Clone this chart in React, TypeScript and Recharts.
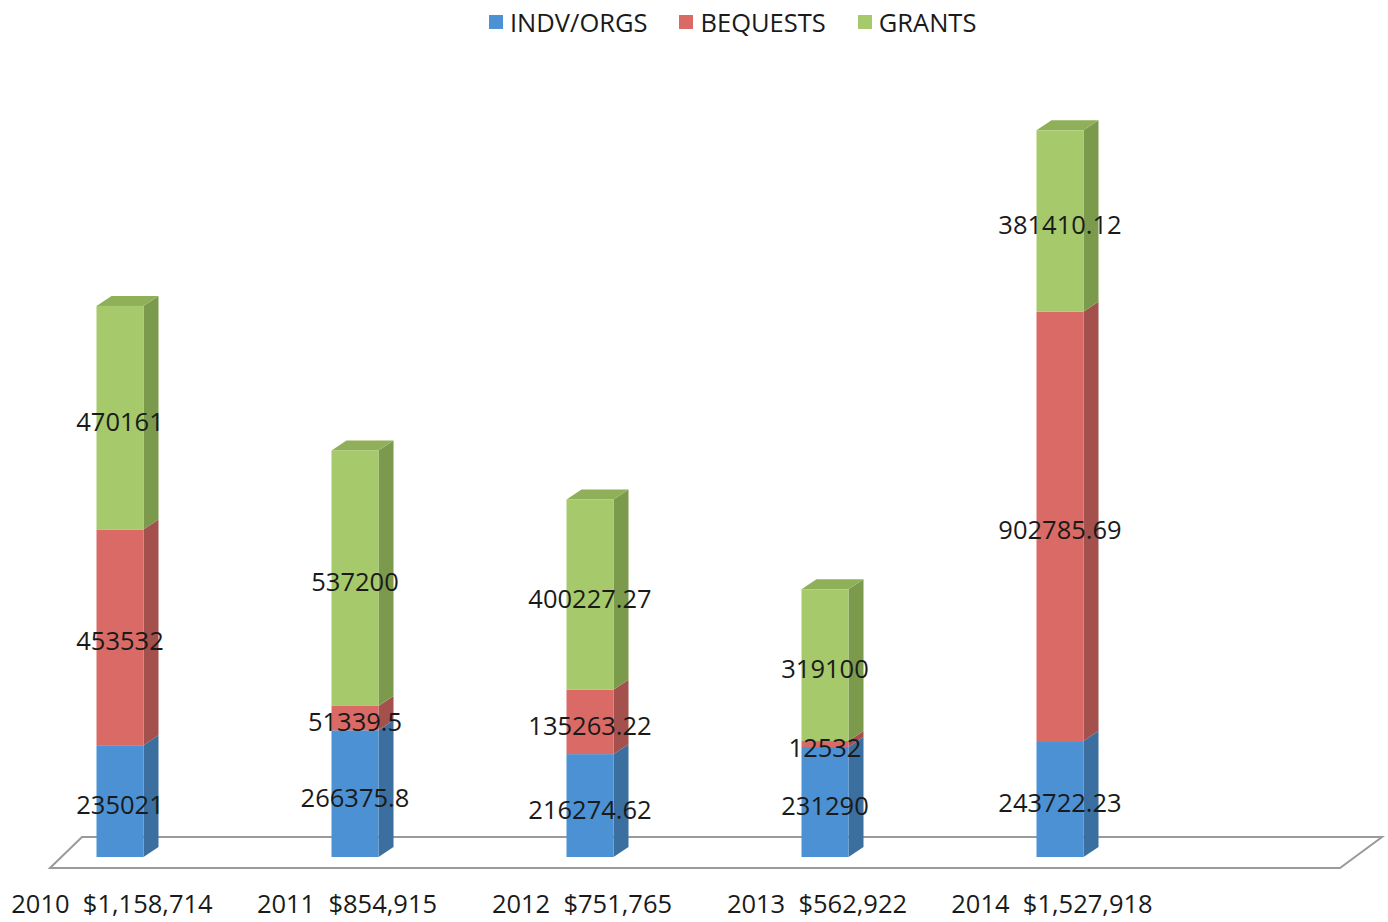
import { BarChart, Bar, XAxis, YAxis, LabelList } from "recharts";

const years = ["2010", "2011", "2012", "2013", "2014"];
const indvOrgs = [235021, 266375.8, 216274.62, 231290, 243722.23];
const bequests = [453532, 51339.5, 135263.22, 12532, 902785.69];
const grants = [470161, 537200, 400227.27, 319100, 381410.12];

const data = years.map((year, i) => ({
  year,
  indv: indvOrgs[i],
  beq: bequests[i],
  grants: grants[i],
  total: Math.round(indvOrgs[i] + bequests[i] + grants[i]),
}));

const FONT = "'Open Sans', 'DejaVu Sans', sans-serif";
const DEPTH_X = 15;
const DEPTH_Y = 10;

const series = [
  { key: "indv", name: "INDV/ORGS", front: "#4b91d3", side: "#3a6f9f", top: "#4380bb" },
  { key: "beq", name: "BEQUESTS", front: "#d96a66", side: "#a4504d", top: "#c05d5a" },
  { key: "grants", name: "GRANTS", front: "#a6c96b", side: "#7c9a4c", top: "#8fb058" },
];

function make3D(front: string, side: string, top: string, showTop: boolean) {
  return (props: any) => {
    const { x, y, width, height } = props;
    if (!height || height <= 0) return <g />;
    const r = x + width;
    const b = y + height;
    return (
      <g>
        <polygon
          points={`${r},${y} ${r + DEPTH_X},${y - DEPTH_Y} ${r + DEPTH_X},${b - DEPTH_Y} ${r},${b}`}
          fill={side}
        />
        {showTop && (
          <polygon
            points={`${x},${y} ${x + DEPTH_X},${y - DEPTH_Y} ${r + DEPTH_X},${y - DEPTH_Y} ${r},${y}`}
            fill={top}
          />
        )}
        <rect x={x} y={y} width={width} height={height} fill={front} />
      </g>
    );
  };
}

const totalsByYear: Record<string, number> = Object.fromEntries(data.map((d) => [d.year, d.total]));

function YearTick(props: any) {
  const { x, y, payload } = props;
  const total = totalsByYear[payload.value];
  return (
    <text x={x - 8} y={y + 48} textAnchor="middle" fontFamily={FONT} fontSize={25.5} fill="#1a1a1a">
      {`${payload.value}\u00a0\u00a0$${total.toLocaleString("en-US")}`}
    </text>
  );
}

export default function App() {
  return (
    <div style={{ position: "fixed", left: 0, top: 0, width: 1388, height: 922, background: "#fff" }}>
      {/* floor */}
      <svg width={1388} height={922} style={{ position: "absolute", left: 0, top: 0 }}>
        <polygon points="50,868 82,837 1382,837 1340,868" fill="#fff" stroke="#9a9a9a" strokeWidth={2} />
      </svg>

      {/* legend */}
      <div
        style={{
          position: "absolute",
          left: 489,
          top: 5,
          display: "flex",
          alignItems: "center",
          gap: 32,
          fontFamily: FONT,
          fontSize: 25.5,
          color: "#1a1a1a",
        }}
      >
        {series.map((s) => (
          <div key={s.key} style={{ display: "flex", alignItems: "center", gap: 7 }}>
            <div style={{ width: 14, height: 14, background: s.front }} />
            <span>{s.name}</span>
          </div>
        ))}
      </div>

      <div style={{ position: "absolute", left: 0, top: 0 }}>
        <BarChart
          width={1388}
          height={922}
          data={data}
          margin={{ top: 96, right: 210.5, left: 2.5, bottom: 0 }}
          barSize={47}
        >
          <XAxis dataKey="year" axisLine={false} tickLine={false} height={65} tick={<YearTick />} interval={0} />
          <YAxis hide domain={[0, 1600000]} />
          {series.map((s, i) => (
            <Bar
              key={s.key}
              dataKey={s.key}
              stackId="a"
              isAnimationActive={false}
              shape={make3D(s.front, s.side, s.top, i === series.length - 1)}
            >
              <LabelList
                dataKey={s.key}
                position="center"
                fill="#1a1a1a"
                fontSize={25.5}
                fontFamily={FONT}
                dy={4}
              />
            </Bar>
          ))}
        </BarChart>
      </div>
    </div>
  );
}
